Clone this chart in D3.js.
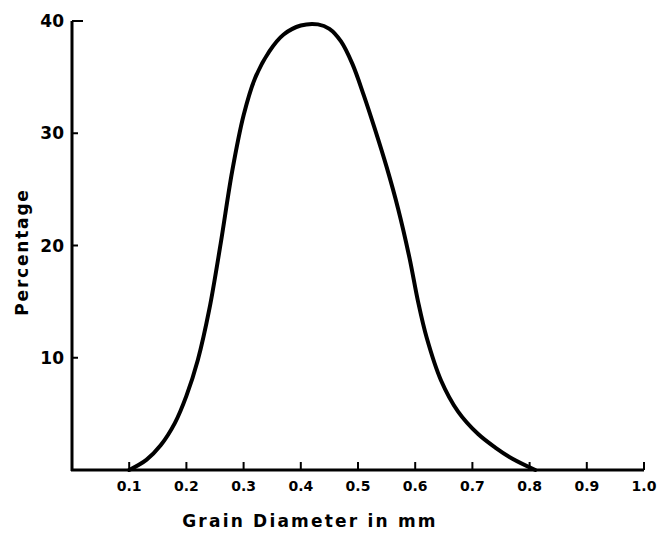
<!DOCTYPE html>
<html><head><meta charset="utf-8">
<script src="https://cdn.jsdelivr.net/npm/d3@7"></script>
<style>body{margin:0;background:#fff}svg{display:block}</style>
</head><body>
<script>
const xTicks = [0.1,0.2,0.3,0.4,0.5,0.6,0.7,0.8,0.9,1.0];
const xTickLabels = ["0.1","0.2","0.3","0.4","0.5","0.6","0.7","0.8","0.9","1.0"];
const yTicks = [10,20,30,40];
const diameter = [0.10,0.13,0.155,0.18,0.20,0.22,0.24,0.26,0.28,0.30,0.32,0.345,0.37,0.40,0.43,0.45,0.47,0.49,0.51,0.53,0.55,0.57,0.59,0.605,0.62,0.645,0.675,0.71,0.74,0.77,0.81];
const percentage = [0.0,0.9,2.2,4.2,6.6,9.8,14.3,20.2,26.6,31.6,34.9,37.3,38.8,39.6,39.7,39.3,38.2,36.2,33.4,30.3,27.0,23.3,18.9,15.0,11.8,8.0,5.2,3.2,2.0,1.0,0.0];

const W=659,H=535;
const svg=d3.select("body").append("svg").attr("width",W).attr("height",H);
const x=d3.scaleLinear().domain([0,1]).range([72,644]);
const y=d3.scaleLinear().domain([0,40]).range([470,21]);
const font="'DejaVu Sans', sans-serif";

svg.append("line").attr("x1",x(0)-1).attr("x2",x(1)).attr("y1",y(0)).attr("y2",y(0)).attr("stroke","#000").attr("stroke-width",3);
svg.append("line").attr("x1",x(0)).attr("x2",x(0)).attr("y1",y(0)+1).attr("y2",y(40)).attr("stroke","#000").attr("stroke-width",3);

const gx=svg.append("g");
gx.selectAll("line").data(xTicks).join("line")
  .attr("x1",d=>x(d)).attr("x2",d=>x(d)).attr("y1",y(0)).attr("y2",y(0)-8)
  .attr("stroke","#000").attr("stroke-width",2);
gx.selectAll("text").data(xTicks).join("text")
  .attr("x",d=>x(d)).attr("y",y(0)+21).attr("text-anchor","middle")
  .attr("font-family",font).attr("font-weight","bold").attr("font-size",14)
  .text((d,i)=>xTickLabels[i]);

const gy=svg.append("g");
gy.selectAll("line").data(yTicks).join("line")
  .attr("x1",x(0)).attr("x2",d=>x(0)+(d===40?11:6)).attr("y1",d=>y(d)).attr("y2",d=>y(d))
  .attr("stroke","#000").attr("stroke-width",2);
gy.selectAll("text").data(yTicks).join("text")
  .attr("x",x(0)-8).attr("y",d=>y(d)+6).attr("text-anchor","end")
  .attr("font-family",font).attr("font-weight","bold").attr("font-size",17)
  .text(d=>d);

svg.append("text").attr("x",310).attr("y",527).attr("text-anchor","middle")
  .attr("font-family",font).attr("font-weight","bold").attr("font-size",17).attr("letter-spacing",2.2)
  .text("Grain Diameter in mm");
svg.append("text").attr("transform","translate(28,252) rotate(-90)").attr("text-anchor","middle")
  .attr("font-family",font).attr("font-weight","bold").attr("font-size",17).attr("letter-spacing",1.8)
  .text("Percentage");

const line=d3.line().x((d,i)=>x(diameter[i])).y(d=>y(d)).curve(d3.curveCatmullRom.alpha(0.5));
svg.append("path").datum(percentage).attr("d",line).attr("fill","none").attr("stroke","#000").attr("stroke-width",4).attr("stroke-linejoin","round").attr("stroke-linecap","round");
</script>
</body></html>
